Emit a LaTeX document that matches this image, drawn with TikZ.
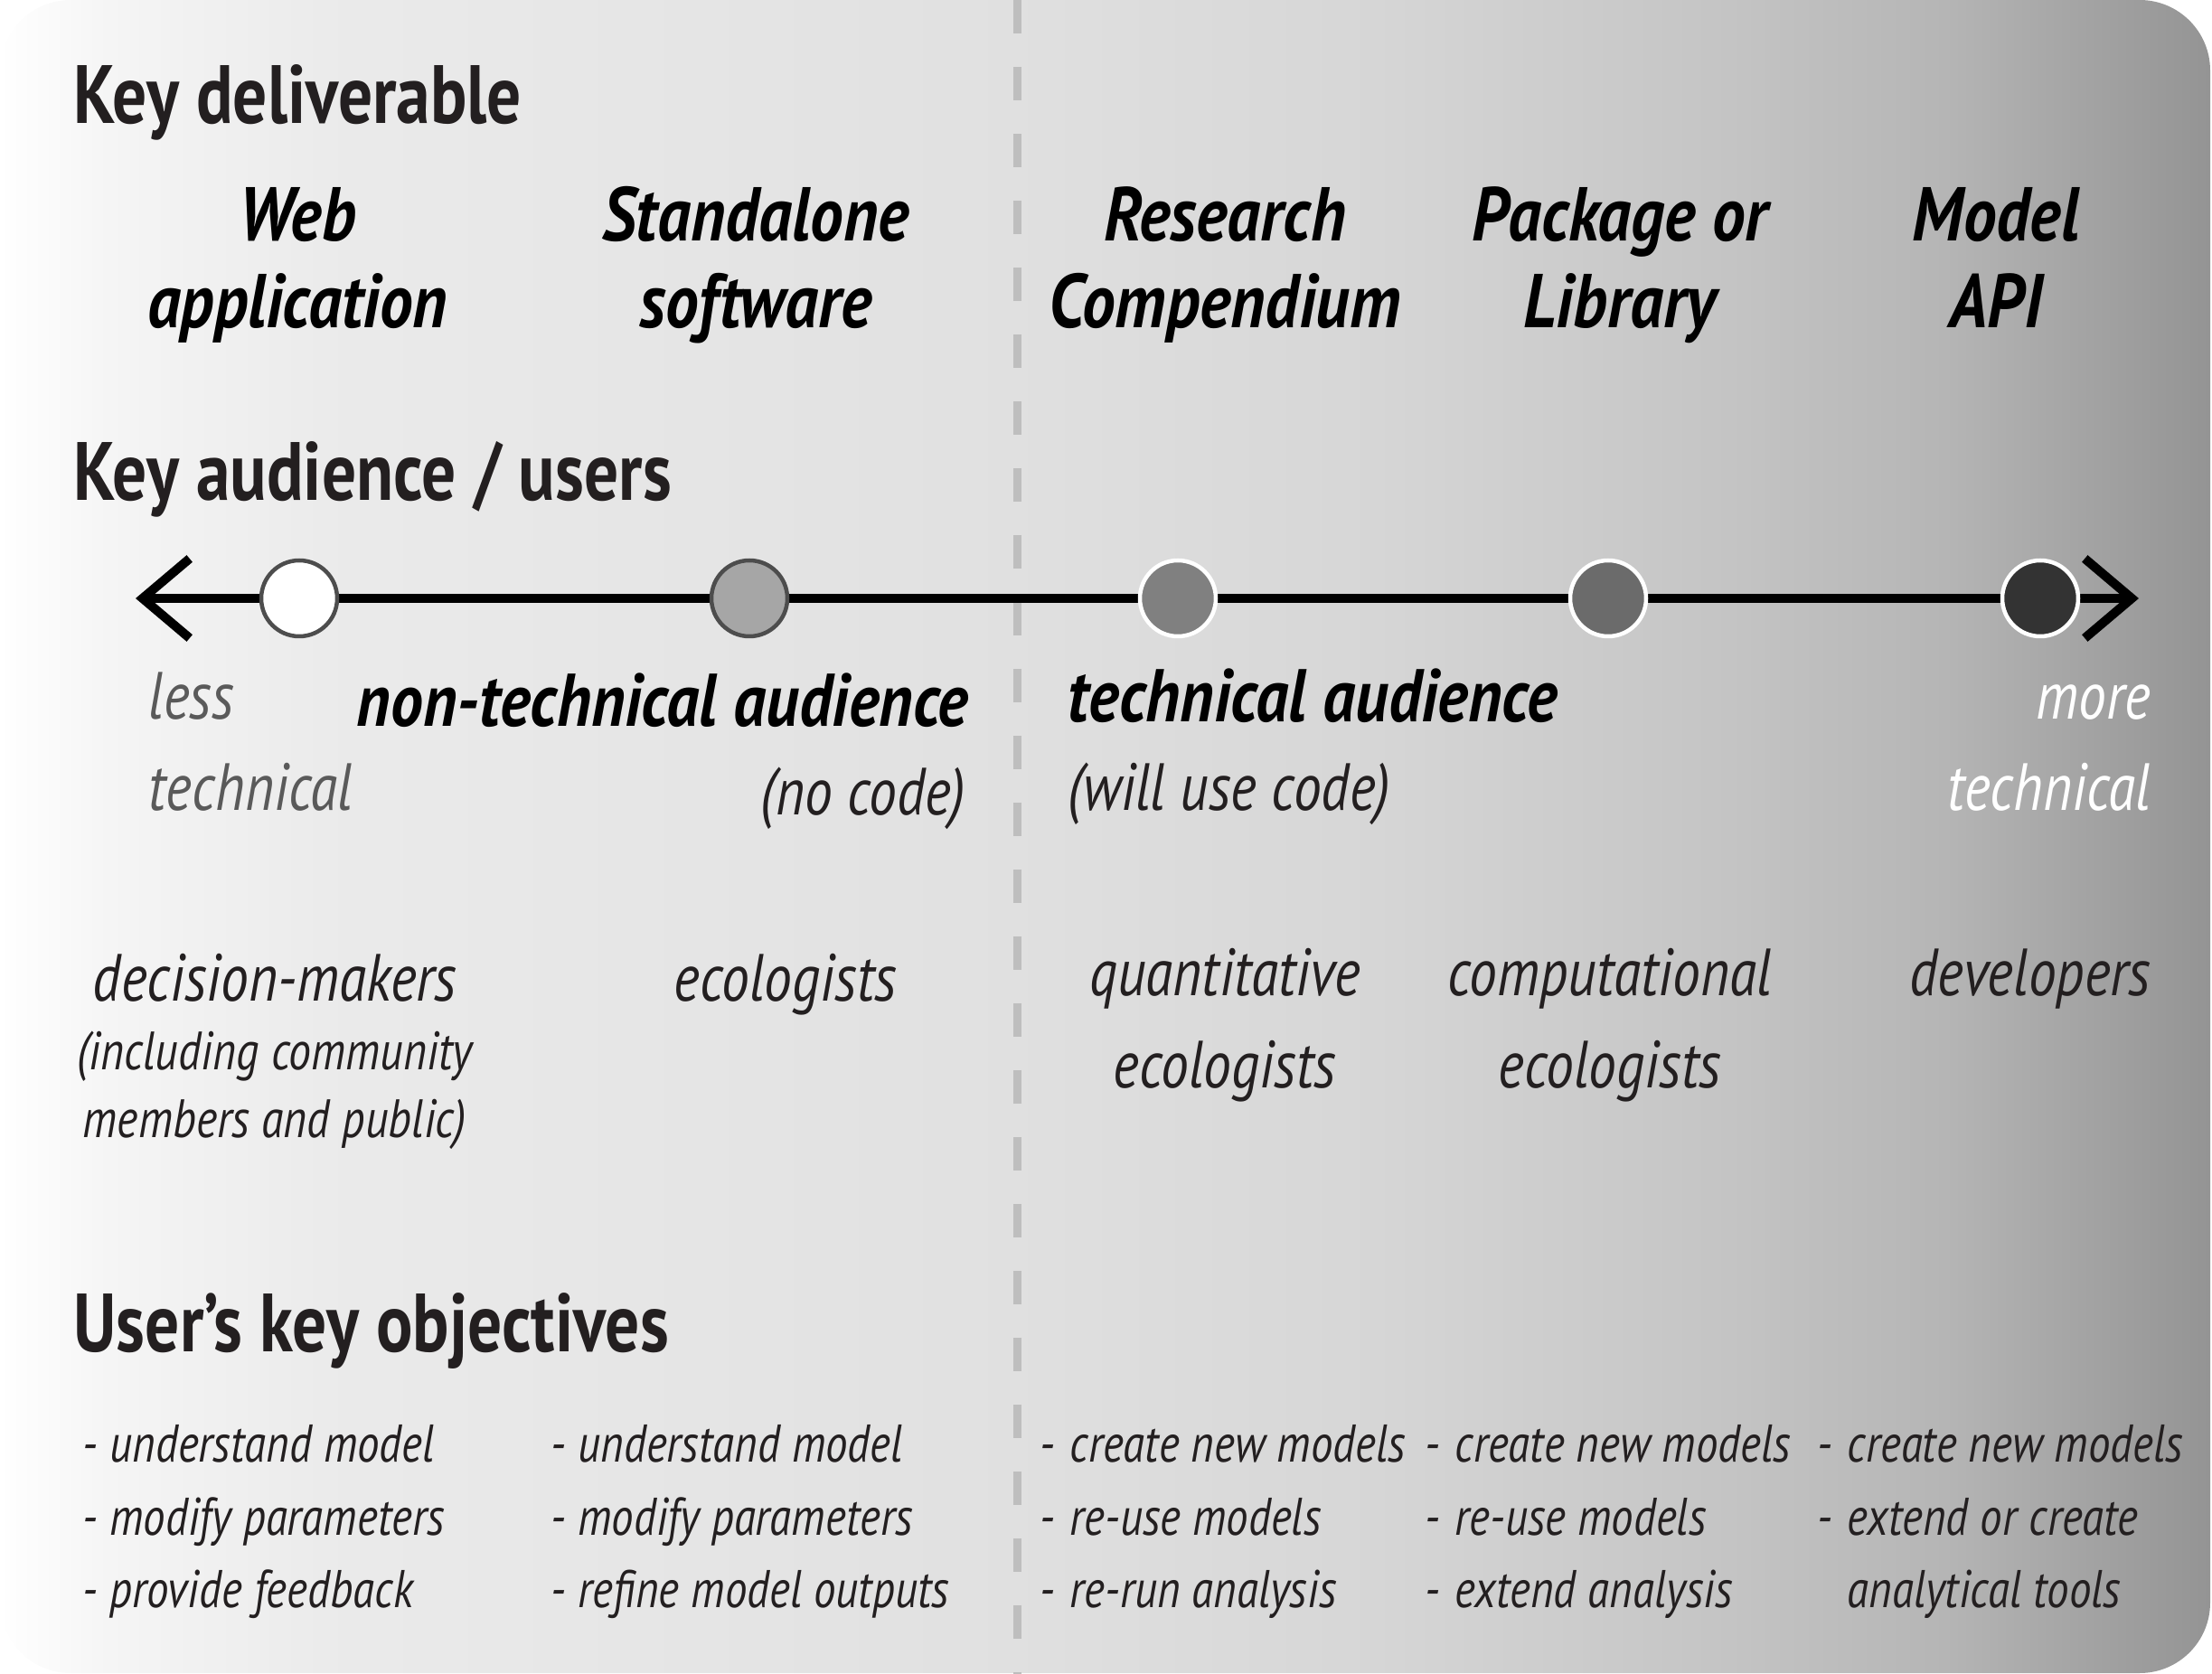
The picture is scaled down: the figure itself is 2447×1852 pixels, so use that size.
\documentclass[tikz,border=0pt]{standalone}
\usepackage{fontspec}
\setmainfont[FakeStretch=0.78,
  ItalicFeatures={FakeStretch=0.835},
  BoldFeatures={FakeStretch=0.825},
  BoldItalicFeatures={FakeStretch=0.87}]{PT Sans}
\usetikzlibrary{arrows.meta}

\definecolor{ink}{HTML}{231F20}
\definecolor{lessgray}{HTML}{5A5A5A}
\definecolor{dashgray}{HTML}{BEBEBE}
\definecolor{ringdark}{HTML}{4D4D4D}

% light panel that darkens towards the right
\pgfdeclarehorizontalshading{panelshade}{100bp}{%
  color(0bp)=(white); color(25bp)=(white); color(27.5bp)=(black!4);
  color(32.5bp)=(black!8); color(47.5bp)=(black!12); color(56bp)=(black!16);
  color(64bp)=(black!23); color(69bp)=(black!29); color(75bp)=(black!42);
  color(100bp)=(black!42)}

\newcommand{\bul}{\makebox[3.3mm][l]{-}}
\newcommand{\nobul}{\makebox[3.3mm][l]{}}

\tikzset{
  heading/.style={font=\bfseries\fontsize{26}{30}\selectfont, text=ink, anchor=base west, inner sep=0pt},
  deliv/.style={font=\bfseries\itshape\fontsize{24}{28}\selectfont, text=black, anchor=base, inner sep=0pt},
  aud/.style={font=\bfseries\itshape\fontsize{23.5}{27}\selectfont, text=black, inner sep=0pt},
  note/.style={font=\itshape\fontsize{21}{25}\selectfont, text=ink, inner sep=0pt},
  user/.style={font=\itshape\fontsize{21}{25}\selectfont, text=ink, anchor=base, inner sep=0pt},
  usersmall/.style={font=\itshape\fontsize{17}{20}\selectfont, text=ink, anchor=base, inner sep=0pt},
  obj/.style={font=\itshape\fontsize{16.7}{20}\selectfont, text=ink, anchor=base west, inner sep=0pt},
  dot/.style={circle, minimum size=8.4mm, inner sep=0pt, line width=0.45mm},
}

\begin{document}
\begin{tikzpicture}[x=0.1mm, y=-0.1mm]
\useasboundingbox (0,0) rectangle (2447,1852);

% background panel
\shade[shading=panelshade, rounded corners=7.8mm] (0,0) rectangle (2445,1851);

% divider between non-technical and technical sides
\draw[dashgray, line width=0.9mm, dash pattern=on 3.7mm off 3.7mm] (1125,0) -- (1125,1852);

% section headings
\node[heading] (hdeliv) at (81,137) {Key deliverable};
\node[heading] (haud) at (81,554) {Key audience / users};
\node[heading] (hobj) at (81,1495) {User’s key objectives};

% deliverables
\node[deliv] (d1a) at (329,267) {Web};
\node[deliv] (d1b) at (329,363) {application};
\node[deliv] (d2a) at (836,267) {Standalone};
\node[deliv] (d2b) at (836,363) {software};
\node[deliv] (d3a) at (1355,267) {Research};
\node[deliv] (d3b) at (1355,363) {Compendium};
\node[deliv] (d4a) at (1792,267) {Package or};
\node[deliv] (d4b) at (1792,363) {Library};
\node[deliv] (d5a) at (2208,267) {Model};
\node[deliv] (d5b) at (2208,363) {API};

% technicality axis
\coordinate (axl) at (150,662);
\coordinate (axr) at (2366,662);
\draw[line width=1mm, line join=miter,
  {Straight Barb[length=5.2mm, width=8.8mm, line width=1mm]}-{Straight Barb[length=5.2mm, width=8.8mm, line width=1mm]}]
  (axl) -- (axr);

\node[dot, fill=white, draw=ringdark] (p1) at (331,662) {};
\node[dot, fill=black!35, draw=ringdark] (p2) at (829,662) {};
\node[dot, fill=black!50, draw=white] (p3) at (1303,662) {};
\node[dot, fill=black!58, draw=white] (p4) at (1779,662) {};
\node[dot, fill=black!80, draw=white] (p5) at (2257,662) {};

% axis labels
\node[note, text=lessgray, anchor=base west] (less1) at (164,796) {less};
\node[note, text=lessgray, anchor=base west] (less2) at (164,897) {technical};
\node[aud, anchor=base east] (nontech) at (1072,804) {non-technical audience};
\node[note, anchor=base east] (nocode) at (1069,902) {(no code)};
\node[aud, anchor=base west] (tech) at (1181,799) {technical audience};
\node[note, anchor=base west] (code) at (1181,897) {(will use code)};
\node[note, text=white, anchor=base east] (more1) at (2380,796) {more};
\node[note, text=white, anchor=base east] (more2) at (2380,897) {technical};

% users
\node[user] (u1) at (304,1108) {decision-makers};
\node[usersmall] (u1b) at (304,1183) {(including community};
\node[usersmall] (u1c) at (304,1258) {members and public)};
\node[user] (u2) at (869,1108) {ecologists};
\node[user] (u3a) at (1355,1102) {quantitative};
\node[user] (u3b) at (1355,1203) {ecologists};
\node[user] (u4a) at (1781,1102) {computational};
\node[user] (u4b) at (1781,1203) {ecologists};
\node[user, anchor=base east] (u5) at (2380,1102) {developers};

% objectives
\node[obj] (o11) at (91,1617) {- understand model};
\node[obj] (o12) at (91,1698) {- modify parameters};
\node[obj] (o13) at (91,1778) {- provide feedback};
\node[obj] (o21) at (609,1617) {- understand model};
\node[obj] (o22) at (609,1698) {- modify parameters};
\node[obj] (o23) at (609,1778) {- refine model outputs};
\node[obj] (o31) at (1150,1617) {\bul create new models};
\node[obj] (o32) at (1150,1698) {\bul re-use models};
\node[obj] (o33) at (1150,1778) {\bul re-run analysis};
\node[obj] (o41) at (1576,1617) {\bul create new models};
\node[obj] (o42) at (1576,1698) {\bul re-use models};
\node[obj] (o43) at (1576,1778) {\bul extend analysis};
\node[obj] (o51) at (2010,1617) {\bul create new models};
\node[obj] (o52) at (2010,1698) {\bul extend or create};
\node[obj] (o53) at (2010,1778) {\nobul analytical tools};
\end{tikzpicture}
\end{document}
